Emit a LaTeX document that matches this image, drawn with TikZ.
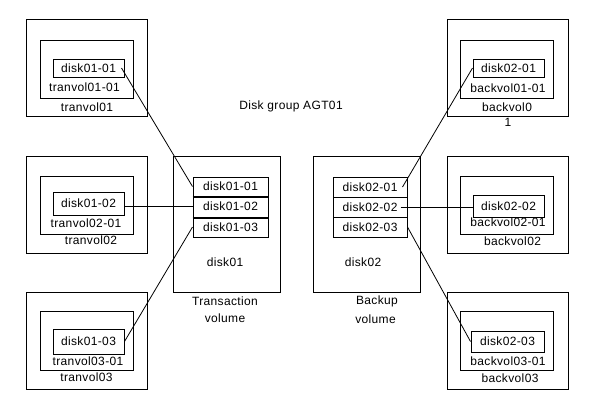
\documentclass[tikz,border=0pt]{standalone}
\usepackage{fontspec}
\setmainfont{Liberation Sans}[LetterSpace=3]
\usetikzlibrary{positioning}

\begin{document}
\begin{tikzpicture}[
    x=1bp, y=-1bp,
    font=\fontsize{12bp}{14bp}\selectfont,
    box/.style={rectangle, draw, line width=1bp, inner sep=0pt},
    outerbox/.style={box, minimum width=120bp, minimum height=97bp},
    volbox/.style={box, minimum width=93bp, minimum height=58bp},
    diskbox/.style={box, minimum width=71bp, minimum height=20bp},
    slicebox/.style={box, minimum width=75bp, minimum height=20bp},
    lbl/.style={inner sep=0pt},
    link/.style={line width=0.8bp}
]
    \useasboundingbox (0,0) rectangle (595,409);

    % Title
    \node[lbl] (title) at (291,106) {Disk group AGT01};

    % Transaction volumes
    \node[outerbox] (to1) at (87,68) {};
    \node[volbox] (tm1) at (86.5,69) {};
    \node[diskbox, minimum height=18bp] (ti1) at (88.5,68) {disk01-01};
    \node[lbl] (tl1a) at (84.5,87) {tranvol01-01};
    \node[lbl] (tl1b) at (87,107) {tranvol01};

    \node[outerbox] (to2) at (87,204.5) {};
    \node[volbox] (tm2) at (86.5,205) {};
    \node[diskbox, minimum height=23bp] (ti2) at (88.5,203.5) {disk01-02};
    \node[lbl] (tl2a) at (86,223) {tranvol02-01};
    \node[lbl] (tl2b) at (91,240) {tranvol02};

    \node[outerbox] (to3) at (87,340.5) {};
    \node[volbox, minimum height=59bp] (tm3) at (86.5,340.5) {};
    \node[diskbox, minimum height=25bp] (ti3) at (88.5,341.5) {disk01-03};
    \node[lbl] (tl3a) at (88,361) {tranvol03-01};
    \node[lbl] (tl3b) at (86.5,377) {tranvol03};

    % disk01
    \node[box, minimum width=107bp, minimum height=136bp] (disk01) at (226.5,224) {};
    \node[slicebox, minimum height=19bp] (s11) at (230.5,186.5) {disk01-01};
    \node[slicebox, minimum height=21bp] (s12) at (230.5,206.5) {disk01-02};
    \node[slicebox] (s13) at (230.5,227) {disk01-03};
    \draw[line width=2bp] (s11.south west) -- (s11.south east);
    \draw[line width=2bp] (s12.south west) -- (s12.south east);
    \node[lbl] (d1name) at (225,262) {disk01};
    \node[lbl] (trans) at (225,301) {Transaction};
    \node[lbl, below=8bp of trans] (trvol) {volume};

    % disk02
    \node[box, minimum width=107bp, minimum height=136bp] (disk02) at (366.5,224) {};
    \node[slicebox, minimum width=74bp] (s21) at (370,187) {disk02-01};
    \node[slicebox, minimum width=74bp] (s22) at (370,207) {disk02-02};
    \node[slicebox, minimum width=74bp] (s23) at (370,227) {disk02-03};
    \node[lbl] (d2name) at (363,262) {disk02};
    \node[lbl] (back) at (377,301) {Backup};
    \node[lbl, below=8bp of back, xshift=-1.5bp] (bkvol) {volume};

    % Backup volumes
    \node[outerbox, minimum width=121bp] (bo1) at (507.5,68) {};
    \node[volbox] (bm1) at (506.5,69) {};
    \node[diskbox, minimum height=18bp] (bi1) at (508.5,68) {disk02-01};
    \node[lbl] (bl1a) at (508,88) {backvol01-01};
    \node[lbl] (bl1b) at (507,107) {backvol0};
    \node[lbl] (bl1c) at (508,122) {1};

    \node[outerbox, minimum width=121bp] (bo2) at (507.5,204.5) {};
    \node[volbox] (bm2) at (506.5,205) {};
    \node[diskbox, minimum height=22bp] (bi2) at (508.5,206) {disk02-02};
    \node[lbl] (bl2a) at (508,222) {backvol02-01};
    \node[lbl] (bl2b) at (512.5,241) {backvol02};

    \node[outerbox, minimum width=121bp] (bo3) at (507.5,340.5) {};
    \node[volbox, minimum height=59bp] (bm3) at (506.5,340.5) {};
    \node[diskbox, minimum width=73bp, minimum height=21bp] (bi3) at (507.5,341.5) {disk02-03};
    \node[lbl] (bl3a) at (508,361) {backvol03-01};
    \node[lbl] (bl3b) at (510,378) {backvol03};

    % Links
    \draw[link] ([xshift=-3bp]ti1.east) -- (s11.west);
    \draw[link] (s12.west -| ti2.east) -- (s12.west);
    \draw[link] (ti3.east) -- (s13.west);
    \draw[link] ([xshift=-5bp]s21.east) -- (bi1.west);
    \draw[link] ([xshift=-7bp]s22.east) -- (s22.east -| bi2.west);
    \draw[link] (s23.east) -- (bi3.west);
\end{tikzpicture}
\end{document}
